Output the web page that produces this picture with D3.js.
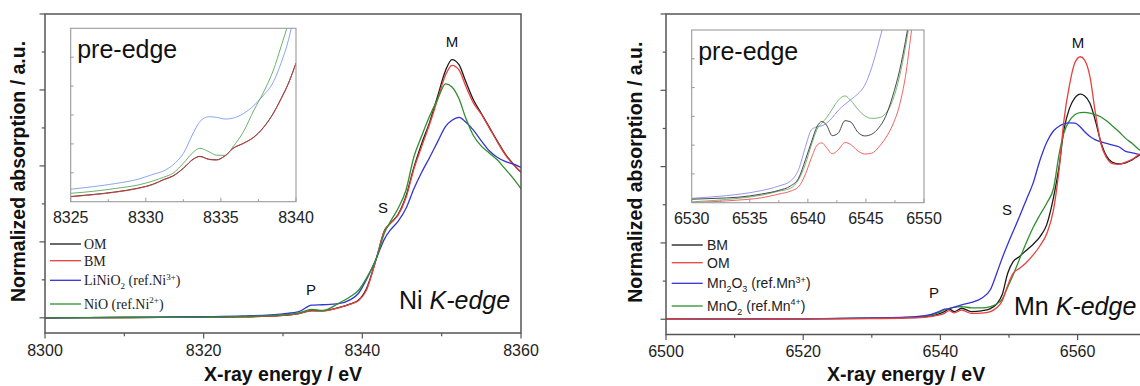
<!DOCTYPE html>
<html><head><meta charset="utf-8">
<script src="https://cdn.jsdelivr.net/npm/d3@7"></script>
<style>
html,body{margin:0;padding:0;background:#fff;}
svg{display:block;}
</style></head>
<body>
<svg id="chart" width="1140" height="386"></svg>
<script>
// ---------- Ni K-edge (left) ----------
const niEnergy = [8300, 8310, 8320, 8325, 8330, 8332, 8333.6, 8335, 8337, 8338.5, 8339.5, 8340.5, 8341.8, 8342.8, 8343.5, 8344.5, 8345.5, 8346.5, 8347.5, 8348.5, 8349.5, 8350.5, 8351.3, 8352.2, 8353, 8354, 8355, 8356, 8357, 8358, 8359, 8360];
const niOM     = [0, 0.002, 0.004, 0.006, 0.016, 0.028, 0.047, 0.046, 0.067, 0.092, 0.115, 0.19, 0.396, 0.575, 0.62, 0.68, 0.80, 0.99, 1.15, 1.29, 1.46, 1.63, 1.70, 1.665, 1.56, 1.435, 1.345, 1.255, 1.165, 1.08, 1.013, 0.958];
const niBM     = [0, 0.002, 0.004, 0.006, 0.016, 0.028, 0.046, 0.045, 0.066, 0.090, 0.112, 0.18, 0.396, 0.575, 0.62, 0.675, 0.79, 0.98, 1.13, 1.277, 1.44, 1.60, 1.662, 1.63, 1.53, 1.415, 1.34, 1.25, 1.16, 1.075, 1.01, 0.958];
const niLiNiO2 = [0, 0.003, 0.007, 0.012, 0.026, 0.040, 0.083, 0.086, 0.093, 0.12, 0.16, 0.25, 0.396, 0.52, 0.575, 0.635, 0.72, 0.85, 0.96, 1.057, 1.16, 1.26, 1.30, 1.32, 1.29, 1.235, 1.165, 1.10, 1.057, 1.03, 1.013, 0.99];
const niNiO    = [0, 0.002, 0.005, 0.009, 0.019, 0.032, 0.055, 0.048, 0.095, 0.14, 0.18, 0.26, 0.396, 0.56, 0.63, 0.72, 0.84, 1.06, 1.20, 1.33, 1.44, 1.54, 1.52, 1.44, 1.32, 1.20, 1.13, 1.085, 1.04, 0.98, 0.92, 0.85];

const niInsetEnergy = [8325, 8326.5, 8328, 8329.5, 8330.5, 8331.2, 8331.8, 8332.5, 8333.2, 8333.6, 8334.2, 8334.7, 8335.3, 8335.8, 8336.5, 8337.2, 8337.8, 8338.5, 8339, 8339.5, 8340];
const niInsetOM     = [0.18, 0.25, 0.34, 0.47, 0.61, 0.77, 0.89, 1.16, 1.49, 1.57, 1.47, 1.45, 1.60, 1.84, 2.02, 2.24, 2.55, 3.07, 3.56, 4.10, 4.80];
const niInsetBM     = [0.17, 0.24, 0.33, 0.46, 0.60, 0.76, 0.88, 1.15, 1.48, 1.56, 1.46, 1.44, 1.60, 1.85, 2.02, 2.23, 2.54, 3.06, 3.55, 4.10, 4.79];
const niInsetLiNiO2 = [0.43, 0.52, 0.63, 0.78, 0.95, 1.07, 1.27, 1.67, 2.42, 2.77, 2.94, 2.92, 2.86, 2.89, 3.05, 3.33, 3.66, 4.15, 4.79, 5.60, 6.80];
const niInsetNiO    = [0.29, 0.36, 0.46, 0.58, 0.72, 0.85, 0.98, 1.33, 1.73, 1.85, 1.73, 1.61, 1.60, 1.90, 2.42, 3.17, 3.75, 4.56, 5.36, 6.20, 7.20];

// ---------- Mn K-edge (right) ----------
const mnEnergy = [6500, 6510, 6520, 6530, 6535, 6538, 6539.5, 6540.6, 6541.3, 6542, 6543.1, 6544.5, 6546, 6547.3, 6548.2, 6549, 6549.8, 6550.6, 6551.5, 6552.5, 6553.5, 6554.5, 6555.5, 6556.5, 6557.3, 6558, 6558.8, 6559.6, 6560.4, 6561, 6561.8, 6562.6, 6563.4, 6564.2, 6565, 6566, 6567, 6568, 6569, 6570];
const mnBM    = [0, 0.001, 0.003, 0.006, 0.010, 0.018, 0.030, 0.050, 0.066, 0.050, 0.072, 0.050, 0.055, 0.070, 0.10, 0.16, 0.30, 0.378, 0.41, 0.45, 0.49, 0.54, 0.62, 0.80, 1.00, 1.24, 1.38, 1.45, 1.475, 1.465, 1.415, 1.30, 1.16, 1.07, 1.03, 1.018, 1.025, 1.045, 1.075, 1.09];
const mnOM    = [0, 0.001, 0.002, 0.004, 0.008, 0.014, 0.025, 0.039, 0.057, 0.042, 0.060, 0.038, 0.040, 0.050, 0.075, 0.12, 0.22, 0.30, 0.333, 0.37, 0.42, 0.48, 0.56, 0.72, 0.98, 1.30, 1.53, 1.68, 1.72, 1.70, 1.59, 1.35, 1.15, 1.06, 1.022, 1.015, 1.03, 1.05, 1.08, 1.10];
const mnMn2O3 = [0, 0.001, 0.003, 0.008, 0.013, 0.025, 0.045, 0.066, 0.070, 0.080, 0.094, 0.11, 0.138, 0.195, 0.30, 0.40, 0.49, 0.575, 0.67, 0.78, 0.89, 1.04, 1.16, 1.235, 1.265, 1.28, 1.287, 1.285, 1.26, 1.23, 1.197, 1.175, 1.162, 1.152, 1.143, 1.13, 1.10, 1.09, 1.078, 1.07];
const mnMnO2  = [0, 0.001, 0.003, 0.007, 0.012, 0.022, 0.040, 0.061, 0.070, 0.078, 0.082, 0.075, 0.074, 0.083, 0.10, 0.13, 0.21, 0.29, 0.39, 0.50, 0.60, 0.683, 0.76, 0.86, 1.08, 1.22, 1.30, 1.34, 1.354, 1.355, 1.35, 1.34, 1.325, 1.30, 1.27, 1.23, 1.185, 1.15, 1.11, 1.09];

const mnInsetEnergy = [6530, 6532, 6534, 6536, 6537.5, 6538.5, 6539.2, 6539.8, 6540.3, 6540.8, 6541.2, 6541.6, 6542.1, 6542.6, 6543.2, 6543.7, 6544.3, 6544.9, 6545.5, 6546.1, 6546.7, 6547.3, 6547.9, 6548.4, 6548.9, 6549.4];
const mnInsetBM    = [0.12, 0.15, 0.19, 0.30, 0.43, 0.58, 0.85, 1.50, 2.10, 2.65, 2.82, 2.70, 2.33, 2.41, 2.85, 2.80, 2.45, 2.32, 2.38, 2.60, 3.00, 3.70, 4.60, 5.60, 6.80, 8.00];
const mnInsetOM    = [0.00, 0.04, 0.09, 0.17, 0.30, 0.40, 0.55, 1.00, 1.55, 2.00, 2.08, 1.92, 1.70, 1.83, 2.09, 2.02, 1.80, 1.69, 1.72, 1.93, 2.25, 2.70, 3.40, 4.38, 5.90, 7.50];
const mnInsetMn2O3 = [0.15, 0.21, 0.29, 0.42, 0.58, 0.75, 1.15, 1.95, 2.53, 2.64, 2.67, 2.76, 2.95, 3.20, 3.42, 3.58, 3.78, 4.08, 4.70, 5.55, 6.50, 7.50, 8.50, 9.50, 10.5, 11.5];
const mnInsetMnO2  = [0.03, 0.08, 0.15, 0.26, 0.40, 0.50, 0.80, 1.35, 2.00, 2.55, 2.76, 2.95, 3.25, 3.55, 3.71, 3.55, 3.25, 3.02, 2.93, 2.95, 3.10, 3.55, 4.40, 5.40, 6.60, 7.80];

// ---------- ticks / labels ----------
const niXTicks = [8300, 8320, 8340, 8360];
const niXMinor = [8310, 8330, 8350];
const niInsetTicks = [8325, 8330, 8335, 8340];
const niInsetMinor = [8327.5, 8332.5, 8337.5];
const mnXTicks = [6500, 6520, 6540, 6560];
const mnXMinor = [6510, 6530, 6550, 6570];
const mnInsetTicks = [6530, 6535, 6540, 6545, 6550];
const mnInsetMinor = [6532.5, 6537.5, 6542.5, 6547.5];
const yMajor = [0, 0.5, 1, 1.5, 2];
const yMinor = [0.25, 0.75, 1.25, 1.75];
const insetYTicks = [1, 2, 3, 4, 5];

const niLegend = [
  {color: "#1a1a1a", parts: [["OM", ""]]},
  {color: "#e8403c", parts: [["BM", ""]]},
  {color: "#3434d4", parts: [["LiNiO", ""], ["2", "sub"], [" (ref.Ni", ""], ["3+", "sup"], [")", ""]]},
  {color: "#2f8f2f", parts: [["NiO (ref.Ni", ""], ["2+", "sup"], [")", ""]]}
];
const mnLegend = [
  {color: "#1a1a1a", parts: [["BM", ""]]},
  {color: "#e8403c", parts: [["OM", ""]]},
  {color: "#3434d4", parts: [["Mn", ""], ["2", "sub"], ["O", ""], ["3", "sub"], [" (ref.Mn", ""], ["3+", "sup"], [")", ""]]},
  {color: "#2f8f2f", parts: [["MnO", ""], ["2", "sub"], [" (ref.Mn", ""], ["4+", "sup"], [")", ""]]}
];

const svg = d3.select("#chart");
const SANS = "'Liberation Sans', Arial, sans-serif";
const SERIF = "'Liberation Serif', 'Times New Roman', serif";
let clipId = 0;

function drawPanel(cfg) {
  const g = svg.append("g");
  const x = d3.scaleLinear().domain(cfg.xDomain).range([cfg.x0, cfg.x1]);
  const y = d3.scaleLinear().domain([-0.1, 2]).range([cfg.yBot, cfg.yTop]);
  const id = "clip" + (clipId++);
  svg.append("clipPath").attr("id", id).append("rect")
    .attr("x", cfg.x0).attr("y", cfg.yTop).attr("width", cfg.x1 - cfg.x0).attr("height", cfg.yBot - cfg.yTop);

  // ticks
  const tk = g.append("g").attr("stroke", "#555").attr("stroke-width", 1.2);
  yMajor.forEach(v => tk.append("line").attr("x1", cfg.x0 - 5.5).attr("x2", cfg.x0).attr("y1", y(v)).attr("y2", y(v)));
  yMinor.forEach(v => tk.append("line").attr("x1", cfg.x0 - 3.2).attr("x2", cfg.x0).attr("y1", y(v)).attr("y2", y(v)));
  cfg.xTicks.forEach(v => tk.append("line").attr("x1", x(v)).attr("x2", x(v)).attr("y1", cfg.yBot).attr("y2", cfg.yBot + 5.5));
  cfg.xMinor.forEach(v => tk.append("line").attr("x1", x(v)).attr("x2", x(v)).attr("y1", cfg.yBot).attr("y2", cfg.yBot + 3.2));

  g.selectAll(".xl").data(cfg.xTicks).enter().append("text")
    .attr("x", d => x(d)).attr("y", cfg.yBot + 22.5).attr("text-anchor", "middle")
    .attr("font-family", SANS).attr("font-size", 16).attr("fill", "#222").text(d => d);

  // curves
  const line = d3.line().x(d => x(d[0])).y(d => y(d[1])).curve(d3.curveMonotoneX);
  const cg = g.append("g").attr("clip-path", `url(#${id})`);
  cfg.series.forEach(s => {
    cg.append("path").datum(cfg.energy.map((e, i) => [e, s.values[i]]))
      .attr("d", line).attr("fill", "none").attr("stroke", s.color).attr("stroke-width", 1.3);
  });

  // frame
  g.append("rect").attr("x", cfg.x0).attr("y", cfg.yTop).attr("width", cfg.x1 - cfg.x0).attr("height", cfg.yBot - cfg.yTop)
    .attr("fill", "none").attr("stroke", "#555").attr("stroke-width", 1.5);

  // axis titles
  g.append("text").attr("x", (cfg.x0 + cfg.x1) / 2).attr("y", 381).attr("text-anchor", "middle")
    .attr("font-family", SANS).attr("font-weight", "bold").attr("font-size", 19.5).attr("fill", "#111")
    .text("X-ray energy / eV");
  g.append("text").attr("transform", `translate(${cfg.yLabelX},${(cfg.yTop + cfg.yBot) / 2 - 2}) rotate(-90)`)
    .attr("text-anchor", "middle").attr("dy", "0.36em")
    .attr("font-family", SANS).attr("font-weight", "bold").attr("font-size", 19.5).attr("fill", "#111")
    .text("Normalized absorption / a.u.");

  // inset
  const ic = cfg.inset;
  const ix = d3.scaleLinear().domain(ic.xDomain).range([ic.x0, ic.x1]);
  const iy = d3.scaleLinear().domain([0, 6]).range([ic.yBot, ic.yTop]);
  const iid = "clip" + (clipId++);
  svg.append("clipPath").attr("id", iid).append("rect")
    .attr("x", ic.x0).attr("y", ic.yTop).attr("width", ic.x1 - ic.x0).attr("height", ic.yBot - ic.yTop);
  const ig = g.append("g");
  ig.append("rect").attr("x", ic.x0).attr("y", ic.yTop).attr("width", ic.x1 - ic.x0).attr("height", ic.yBot - ic.yTop)
    .attr("fill", "#fff");
  const iline = d3.line().x(d => ix(d[0])).y(d => iy(d[1])).curve(d3.curveMonotoneX);
  const icg = ig.append("g").attr("clip-path", `url(#${iid})`);
  ic.series.forEach(s => {
    icg.append("path").datum(ic.energy.map((e, i) => [e, s.values[i]]))
      .attr("d", iline).attr("fill", "none").attr("stroke", s.color).attr("stroke-width", 0.9);
  });
  ig.append("rect").attr("x", ic.x0).attr("y", ic.yTop).attr("width", ic.x1 - ic.x0).attr("height", ic.yBot - ic.yTop)
    .attr("fill", "none").attr("stroke", "#9a9a9a").attr("stroke-width", 1.1);
  const itk = ig.append("g").attr("stroke", "#9a9a9a").attr("stroke-width", 1);
  ic.ticks.forEach(v => itk.append("line").attr("x1", ix(v)).attr("x2", ix(v)).attr("y1", ic.yBot).attr("y2", ic.yBot - 4));
  ic.minor.forEach(v => itk.append("line").attr("x1", ix(v)).attr("x2", ix(v)).attr("y1", ic.yBot).attr("y2", ic.yBot - 2.5));
  insetYTicks.forEach(v => itk.append("line").attr("x1", ic.x0).attr("x2", ic.x0 + 3).attr("y1", iy(v)).attr("y2", iy(v)));
  ig.selectAll(".il").data(ic.ticks).enter().append("text")
    .attr("x", d => ix(d)).attr("y", ic.yBot + 21).attr("text-anchor", "middle")
    .attr("font-family", SANS).attr("font-size", 16).attr("fill", "#222").text(d => d);
  ig.append("text").attr("x", ic.x0 + 6.5).attr("y", ic.yTop + 29.5)
    .attr("font-family", SANS).attr("font-size", 25).attr("fill", "#111").text("pre-edge");

  // legend
  const lg = g.append("g");
  cfg.legend.items.forEach((it, i) => {
    const ly = cfg.legend.rows[i];
    lg.append("line").attr("x1", cfg.legend.x0).attr("x2", cfg.legend.x1).attr("y1", ly).attr("y2", ly)
      .attr("stroke", it.color).attr("stroke-width", 1.3);
    const t = lg.append("text").attr("x", cfg.legend.tx).attr("y", ly + 4.8)
      .attr("font-family", cfg.legend.font).attr("font-size", 14).attr("fill", "#222");
    let shift = 0;
    it.parts.forEach(p => {
      const target = p[1] === "sub" ? 4 : (p[1] === "sup" ? -5.5 : 0);
      const ts = t.append("tspan").attr("dy", target - shift).text(p[0]);
      if (p[1]) ts.attr("font-size", 9);
      shift = target;
    });
  });

  // annotations
  cfg.marks.forEach(m => {
    g.append("text").attr("x", m.x).attr("y", m.y).attr("text-anchor", "middle")
      .attr("font-family", SANS).attr("font-size", 15).attr("fill", "#111").text(m.t);
  });
  const et = g.append("text").attr("x", cfg.edge.x).attr("y", cfg.edge.y)
    .attr("font-family", SANS).attr("font-size", 25).attr("fill", "#111");
  et.append("tspan").text(cfg.edge.el + " ");
  et.append("tspan").attr("font-style", "italic").text("K-edge");
}

drawPanel({
  x0: 45, x1: 521, yTop: 14, yBot: 333, xDomain: [8300, 8360],
  xTicks: niXTicks, xMinor: niXMinor, yLabelX: 18,
  energy: niEnergy,
  series: [
    {color: "#1a1a1a", values: niOM},
    {color: "#e8403c", values: niBM},
    {color: "#3434d4", values: niLiNiO2},
    {color: "#2f8f2f", values: niNiO}
  ],
  inset: {
    x0: 70.7, x1: 296, yTop: 28.3, yBot: 201.7, xDomain: [8325, 8340],
    ticks: niInsetTicks, minor: niInsetMinor, energy: niInsetEnergy,
    series: [
      {color: "#1a1a1a", values: niInsetOM},
      {color: "#7a9cf0", values: niInsetLiNiO2},
      {color: "#5aa85a", values: niInsetNiO},
      {color: "#d94040", values: niInsetBM}
    ]
  },
  legend: {x0: 50, x1: 81, tx: 84, rows: [244, 260.7, 280.3, 304], font: SERIF, items: niLegend},
  marks: [{t: "M", x: 452, y: 47.3}, {t: "S", x: 383, y: 212.5}, {t: "P", x: 311, y: 295}],
  edge: {el: "Ni", x: 399, y: 309}
});

drawPanel({
  x0: 666, x1: 1146.2, yTop: 14, yBot: 334.5, xDomain: [6500, 6570],
  xTicks: mnXTicks, xMinor: mnXMinor, yLabelX: 634.5,
  energy: mnEnergy,
  series: [
    {color: "#1a1a1a", values: mnBM},
    {color: "#2f8f2f", values: mnMnO2},
    {color: "#3434d4", values: mnMn2O3},
    {color: "#e8403c", values: mnOM}
  ],
  inset: {
    x0: 691.7, x1: 924, yTop: 30, yBot: 202.7, xDomain: [6530, 6550],
    ticks: mnInsetTicks, minor: mnInsetMinor, energy: mnInsetEnergy,
    series: [
      {color: "#8a8aee", values: mnInsetMn2O3},
      {color: "#66b066", values: mnInsetMnO2},
      {color: "#333333", values: mnInsetBM},
      {color: "#f05050", values: mnInsetOM}
    ]
  },
  legend: {x0: 671.7, x1: 702.7, tx: 707, rows: [245, 262.7, 283.3, 306], font: SANS, items: mnLegend},
  marks: [{t: "M", x: 1078, y: 48.3}, {t: "S", x: 1007, y: 215}, {t: "P", x: 934, y: 298.3}],
  edge: {el: "Mn", x: 1014, y: 315}
});
</script>
</body></html>
